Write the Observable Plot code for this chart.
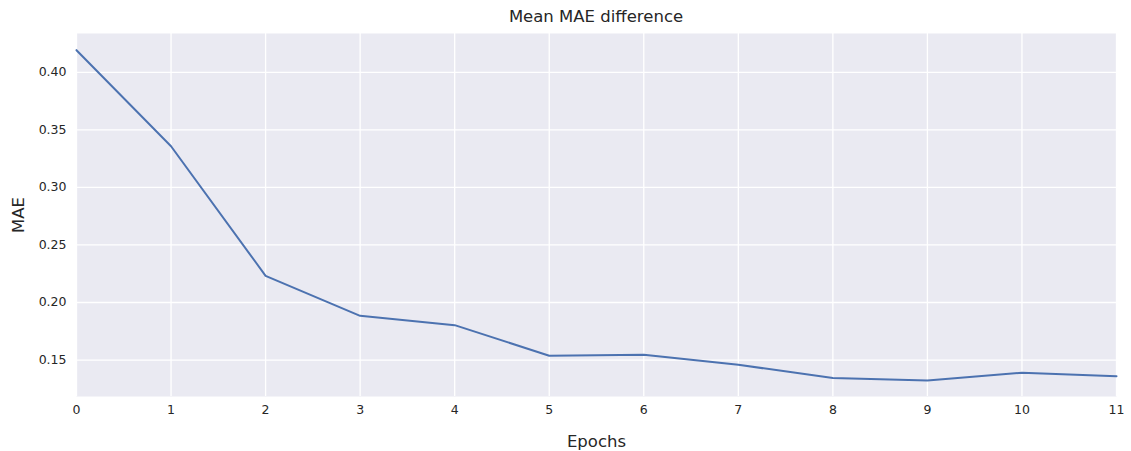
<!DOCTYPE html>
<html>
<head>
<meta charset="utf-8">
<script src="https://cdn.jsdelivr.net/npm/d3@7"></script>
<script src="https://cdn.jsdelivr.net/npm/@observablehq/plot@0.6"></script>
<style>
  html, body { margin: 0; padding: 0; background: #fff; }
  body { width: 1131px; height: 451px; overflow: hidden; font-family: "DejaVu Sans", sans-serif; }
  #title { height: 33px; line-height: 33px; font-size: 16.5px; color: #262626; text-align: center; padding-left: 61px; box-sizing: border-box; width: 1131px; }
</style>
</head>
<body>
<div id="title">Mean MAE difference</div>
<div id="chart"></div>
<script>
const epochs = [0, 1, 2, 3, 4, 5, 6, 7, 8, 9, 10, 11];
const mae = [0.4193, 0.3358, 0.2232, 0.1884, 0.1803, 0.1537, 0.1545, 0.1459, 0.1343, 0.1323, 0.1390, 0.1360];
const xTicks = [0, 1, 2, 3, 4, 5, 6, 7, 8, 9, 10, 11];
const yTicks = [0.15, 0.20, 0.25, 0.30, 0.35, 0.40];

const data = epochs.map((e, i) => ({epoch: e, mae: mae[i]}));

const chart = Plot.plot({
  width: 1131,
  height: 418,
  marginLeft: 76,
  marginRight: 15,
  marginTop: 0,
  marginBottom: 55,
  style: {fontFamily: "DejaVu Sans, sans-serif", fontSize: "12.5px", color: "#262626", background: "#fff"},
  x: {domain: [0, 11]},
  y: {domain: [0.1183, 0.4338]},
  marks: [
    Plot.frame({fill: "#EAEAF2", stroke: null}),
    Plot.gridX(xTicks, {stroke: "#fff", strokeOpacity: 1, strokeWidth: 1.3}),
    Plot.gridY(yTicks, {stroke: "#fff", strokeOpacity: 1, strokeWidth: 1.3}),
    Plot.axisX(xTicks, {tickSize: 0, tickPadding: 9, fontSize: 12.5, label: "Epochs", labelAnchor: "center", labelOffset: 50, labelArrow: "none"}),
    Plot.axisY(yTicks, {tickSize: 0, tickPadding: 10, fontSize: 12.5, tickFormat: d3.format(".2f"), label: "MAE", labelAnchor: "center", labelOffset: 64, labelArrow: "none"}),
    Plot.line(data, {x: "epoch", y: "mae", stroke: "#4C72B0", strokeWidth: 2})
  ]
});
chart.querySelectorAll("[aria-label='x-axis tick label'] text, [aria-label='y-axis tick label'] text").forEach(t => t.setAttribute("font-size", "12.5"));
chart.querySelectorAll("[aria-label='x-axis label'] text, [aria-label='y-axis label'] text").forEach(t => t.setAttribute("font-size", "16.5"));
document.getElementById("chart").appendChild(chart);
</script>
</body>
</html>
